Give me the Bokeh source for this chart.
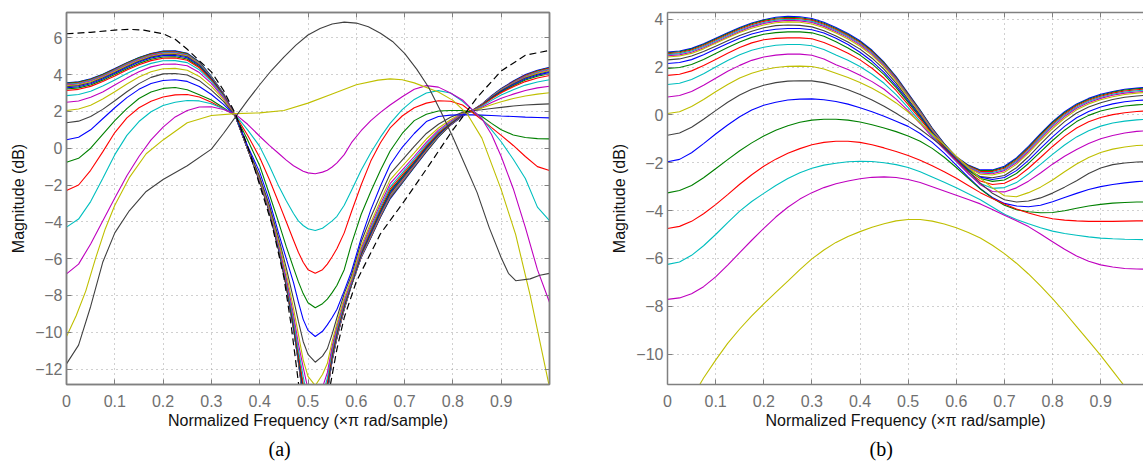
from bokeh.plotting import figure
from bokeh.models import Range1d, LinearAxis, FixedTicker, Title
from bokeh.layouts import row
from bokeh.embed import file_html
from bokeh.resources import INLINE

# ---------------- tick labels ----------------
X_TICKS = [0, 0.1, 0.2, 0.3, 0.4, 0.5, 0.6, 0.7, 0.8, 0.9]
X_TICK_LABELS = ["0", "0.1", "0.2", "0.3", "0.4", "0.5", "0.6", "0.7", "0.8", "0.9"]
A_Y_TICKS = [-12, -10, -8, -6, -4, -2, 0, 2, 4, 6]
A_Y_TICK_LABELS = ["\u221212", "\u221210", "\u22128", "\u22126", "\u22124", "\u22122", "0", "2", "4", "6"]
B_Y_TICKS = [-10, -8, -6, -4, -2, 0, 2, 4]
B_Y_TICK_LABELS = ["\u221210", "\u22128", "\u22126", "\u22124", "\u22122", "0", "2", "4"]

# MATLAB default colour order: b, g, r, c, m, y, k
COLOR_ORDER = ["#0000ff", "#008000", "#ff0000", "#00bfbf", "#bf00bf", "#bfbf00", "#404040"]

# ---------------- panel (a) data ----------------
a_x = [0, 0.025, 0.05, 0.075, 0.1, 0.125, 0.15, 0.175, 0.2, 0.225, 0.25, 0.275, 0.3, 0.325, 0.35,
       0.375, 0.4, 0.42, 0.44, 0.455, 0.47, 0.48, 0.49, 0.5, 0.515,
       0.53, 0.54, 0.55, 0.56, 0.575, 0.59, 0.61, 0.63, 0.65, 0.67, 0.695, 0.72, 0.745, 0.77, 0.795, 0.82, 0.84,
       0.86, 0.88, 0.9, 0.925, 0.95, 0.975, 1.0]
a_c00 = [3.55, 3.61, 3.77, 4.02, 4.33, 4.65, 4.93, 5.15, 5.28, 5.29, 5.16, 4.69, 3.9, 2.97, 1.72,
         -0.05, -1.8, -3.45, -5.6, -7.5, -9.8, -11.6, -13.6, -17, -30,
         -17, -13.25, -11.55, -10.3, -8.75, -7.45, -5.95, -4.88, -3.75, -2.75, -1.9, -1.05, -0.2, 0.6, 1.25, 1.75, 2.05,
         2.4, 2.85, 3.25, 3.65, 4.0, 4.24, 4.4]
a_c01 = [3.53, 3.59, 3.75, 4.0, 4.31, 4.63, 4.91, 5.13, 5.26, 5.27, 5.14, 4.67, 3.89, 2.97, 1.72,
         -0.05, -1.8, -3.45, -5.6, -7.5, -9.8, -11.6, -13.58, -16.8, -28,
         -16.5, -13.22, -11.52, -10.28, -8.73, -7.45, -5.93, -4.85, -3.72, -2.7, -1.87, -1.02, -0.18, 0.62, 1.26, 1.76, 2.05,
         2.38, 2.83, 3.22, 3.62, 3.97, 4.21, 4.37]
a_c02 = [3.5, 3.56, 3.72, 3.97, 4.28, 4.6, 4.88, 5.1, 5.23, 5.24, 5.11, 4.64, 3.87, 2.95, 1.72,
         -0.05, -1.8, -3.45, -5.6, -7.49, -9.79, -11.58, -13.55, -16.5, -26,
         -16, -13.2, -11.5, -10.26, -8.71, -7.44, -5.91, -4.82, -3.69, -2.66, -1.83, -0.98, -0.15, 0.64, 1.27, 1.77, 2.05,
         2.38, 2.82, 3.21, 3.6, 3.95, 4.18, 4.34]
a_c03 = [3.47, 3.53, 3.69, 3.94, 4.25, 4.57, 4.85, 5.07, 5.2, 5.21, 5.08, 4.62, 3.86, 2.94, 1.72,
         -0.05, -1.8, -3.45, -5.6, -7.48, -9.78, -11.55, -13.5, -16.2, -24,
         -15.5, -13.15, -11.46, -10.23, -8.69, -7.44, -5.89, -4.79, -3.65, -2.62, -1.8, -0.95, -0.12, 0.66, 1.28, 1.78, 2.04,
         2.37, 2.8, 3.19, 3.57, 3.91, 4.14, 4.3]
a_c04 = [3.43, 3.49, 3.65, 3.9, 4.21, 4.53, 4.81, 5.03, 5.16, 5.17, 5.04, 4.59, 3.84, 2.93, 1.72,
         -0.04, -1.8, -3.44, -5.59, -7.47, -9.76, -11.52, -13.45, -15.9, -22,
         -15, -13.1, -11.42, -10.2, -8.67, -7.43, -5.86, -4.75, -3.61, -2.57, -1.76, -0.92, -0.09, 0.68, 1.29, 1.79, 2.04,
         2.36, 2.79, 3.17, 3.55, 3.88, 4.1, 4.26]
a_c05 = [3.39, 3.45, 3.61, 3.86, 4.17, 4.49, 4.77, 4.99, 5.12, 5.13, 5.01, 4.56, 3.82, 2.92, 1.72,
         -0.04, -1.8, -3.44, -5.58, -7.46, -9.74, -11.48, -13.4, -15.6, -20,
         -14.6, -13.05, -11.38, -10.15, -8.64, -7.42, -5.83, -4.71, -3.56, -2.52, -1.71, -0.88, -0.06, 0.7, 1.3, 1.8, 2.04,
         2.36, 2.77, 3.15, 3.52, 3.85, 4.07, 4.22]
a_c06 = [3.34, 3.4, 3.56, 3.82, 4.12, 4.44, 4.73, 4.95, 5.08, 5.09, 4.97, 4.53, 3.8, 2.91, 1.72,
         -0.04, -1.79, -3.43, -5.57, -7.44, -9.72, -11.43, -13.3, -15.3, -19,
         -14.3, -13.0, -11.33, -10.1, -8.6, -7.41, -5.79, -4.66, -3.51, -2.47, -1.66, -0.84, -0.02, 0.72, 1.31, 1.81, 2.04,
         2.35, 2.76, 3.12, 3.49, 3.81, 4.02, 4.17]
a_c07 = [3.28, 3.34, 3.5, 3.76, 4.07, 4.39, 4.68, 4.9, 5.03, 5.04, 4.92, 4.49, 3.78, 2.9, 1.72,
         -0.03, -1.78, -3.42, -5.55, -7.41, -9.7, -11.38, -13.2, -15.0, -18,
         -14.0, -12.95, -11.28, -10.05, -8.56, -7.39, -5.75, -4.6, -3.45, -2.4, -1.6, -0.8, 0.02, 0.75, 1.33, 1.82, 2.04,
         2.34, 2.74, 3.1, 3.45, 3.76, 3.97, 4.12]
a_c08 = [3.22, 3.28, 3.44, 3.7, 4.0, 4.32, 4.61, 4.83, 4.96, 4.97, 4.85, 4.43, 3.74, 2.87, 1.72,
         -0.02, -1.76, -3.4, -5.5, -7.36, -9.6, -11.3, -13.0, -14.7, -17,
         -13.8, -12.85, -11.2, -9.98, -8.52, -7.36, -5.7, -4.52, -3.38, -2.32, -1.54, -0.75, 0.07, 0.79, 1.35, 1.84, 2.04,
         2.33, 2.72, 3.06, 3.4, 3.71, 3.91, 4.05]
a_c09 = [3.14, 3.2, 3.36, 3.62, 3.93, 4.25, 4.54, 4.76, 4.89, 4.9, 4.78, 4.37, 3.7, 2.85, 1.73,
         -0.01, -1.74, -3.37, -5.45, -7.3, -9.45, -11.15, -12.8, -14.3, -16,
         -13.6, -12.7, -11.1, -9.9, -8.46, -7.32, -5.64, -4.43, -3.29, -2.22, -1.45, -0.68, 0.13, 0.84, 1.38, 1.86, 2.04,
         2.32, 2.68, 3.01, 3.34, 3.62, 3.82, 3.95]
a_c10 = [2.86, 2.92, 3.1, 3.38, 3.71, 4.06, 4.37, 4.61, 4.75, 4.76, 4.65, 4.26, 3.63, 2.8, 1.73,
         0.0, -1.72, -3.33, -5.4, -7.2, -9.3, -10.95, -12.4, -13.8, -15,
         -13.4, -12.5, -10.95, -9.8, -8.38, -7.27, -5.56, -4.33, -3.18, -2.1, -1.34, -0.58, 0.21, 0.9, 1.42, 1.88, 2.03,
         2.28, 2.6, 2.89, 3.18, 3.43, 3.6, 3.72]
a_c11 = [2.5, 2.57, 2.77, 3.06, 3.43, 3.81, 4.15, 4.42, 4.56, 4.58, 4.48, 4.11, 3.52, 2.74, 1.73,
         0.01, -1.68, -3.28, -5.3, -7.05, -9.05, -10.6, -11.9, -13.1, -14,
         -13.0, -12.2, -10.75, -9.65, -8.27, -7.2, -5.46, -4.2, -3.03, -1.93, -1.19, -0.45, 0.32, 0.98, 1.47, 1.9, 2.03,
         2.23, 2.49, 2.71, 2.94, 3.14, 3.28, 3.37]
a_c12 = [2.05, 2.13, 2.34, 2.67, 3.07, 3.49, 3.87, 4.16, 4.32, 4.34, 4.24, 3.9, 3.36, 2.65, 1.74,
         0.03, -1.62, -3.2, -5.15, -6.8, -8.7, -10.1, -11.5, -12.4, -12.9,
         -12.3, -11.7, -10.5, -9.5, -8.12, -7.1, -5.33, -4.05, -2.85, -1.72, -0.98, -0.25, 0.5, 1.1, 1.55, 1.93, 2.03,
         2.18, 2.36, 2.53, 2.7, 2.84, 2.94, 3.01]
a_c13 = [1.38, 1.47, 1.72, 2.11, 2.58, 3.07, 3.51, 3.85, 4.04, 4.06, 3.98, 3.67, 3.16, 2.55, 1.74,
         0.06, -1.55, -3.1, -4.95, -6.5, -8.2, -9.4, -10.5, -11.2, -11.63,
         -11.3, -10.9, -10.1, -9.2, -7.9, -6.9, -5.1, -3.75, -2.55, -1.4, -0.65, 0.1, 0.8, 1.3, 1.68, 1.96, 2.04,
         2.09, 2.16, 2.22, 2.29, 2.35, 2.38, 2.41]
a_c14 = [0.46, 0.6, 1.0, 1.6, 2.2, 2.75, 3.2, 3.52, 3.68, 3.72, 3.63, 3.35, 2.92, 2.38, 1.75,
         0.12, -1.3, -2.85, -4.7, -6.0, -7.3, -8.35, -9.3, -9.9, -10.23,
         -9.95, -9.6, -9.2, -8.75, -7.75, -6.7, -4.9, -3.35, -2.05, -0.9, 0.05, 0.8, 1.45, 1.72, 1.8, 1.82, 1.81,
         1.8, 1.78, 1.75, 1.72, 1.69, 1.67, 1.65]
a_c15 = [-0.76, -0.55, 0.0, 0.75, 1.5, 2.15, 2.7, 3.05, 3.25, 3.3, 3.18, 2.9, 2.62, 2.2, 1.76,
         0.45, -0.95, -2.5, -4.1, -5.35, -6.5, -7.25, -7.9, -8.4, -8.67,
         -8.45, -8.2, -7.85, -7.45, -6.6, -5.2, -3.6, -2.35, -1.2, -0.15, 0.8, 1.5, 1.85, 2.02, 2.05, 2.05, 1.97,
         1.72, 1.35, 1.0, 0.72, 0.58, 0.52, 0.51]
a_c16 = [-2.3, -2.0, -1.2, -0.2, 0.85, 1.65, 2.2, 2.55, 2.78, 2.9, 2.92, 2.78, 2.5, 2.15, 1.78,
         0.7, -0.5, -1.7, -3.0, -4.0, -5.0, -5.65, -6.2, -6.6, -6.79,
         -6.6, -6.3, -5.9, -5.45, -4.6, -3.45, -2.0, -0.7, 0.3, 1.1, 1.75, 2.2, 2.45, 2.58, 2.55, 2.35, 1.95,
         1.55, 1.12, 0.7, 0.15, -0.45, -1.0, -1.21]
a_c17 = [-4.29, -3.85, -2.9, -1.65, -0.35, 0.7, 1.45, 1.98, 2.32, 2.5, 2.59, 2.57, 2.42, 2.15, 1.8,
         1.0, 0.1, -0.95, -2.1, -2.85, -3.55, -3.95, -4.2, -4.38, -4.47,
         -4.35, -4.15, -3.95, -3.7, -3.1, -2.3, -1.2, -0.25, 0.6, 1.35, 2.1, 2.65, 3.0, 3.13, 3.0, 2.55, 2.08,
         1.6, 1.0, 0.35, -0.6, -1.65, -3.2, -3.93]
a_c18 = [-6.83, -6.3, -5.2, -3.95, -2.7, -1.5, -0.45, 0.45, 1.15, 1.7, 2.05, 2.24, 2.25, 2.1, 1.84,
         1.3, 0.65, 0.15, -0.3, -0.65, -0.95, -1.1, -1.25, -1.34, -1.39,
         -1.3, -1.2, -1.02, -0.8, -0.35, 0.3, 0.95, 1.5, 1.95, 2.35, 2.8, 3.2, 3.4, 3.32, 3.0, 2.62, 2.1,
         1.6, 0.75, -0.45, -2.2, -4.3, -6.6, -8.37]
a_c19_x = [0, 0.02, 0.04, 0.06, 0.08, 0.1, 0.13, 0.165, 0.2, 0.25, 0.3, 0.35, 0.4, 0.45,
           0.5, 0.55, 0.6, 0.645, 0.67, 0.695, 0.72, 0.77, 0.8, 0.83, 0.86, 0.9, 0.93, 0.96, 1.0]
a_c19 = [-10.23, -9.1, -7.75, -6.0, -4.4, -3.1, -1.6, -0.3, 0.45, 1.38, 1.78, 1.88, 1.92, 2.05,
         2.45, 2.95, 3.45, 3.7, 3.77, 3.72, 3.55, 3.05, 2.6, 1.85, 0.55, -2.25, -4.7, -8.0, -13.0]
a_c20_x = [0, 0.025, 0.05, 0.075, 0.1, 0.13, 0.165, 0.2, 0.25, 0.3, 0.325, 0.35, 0.375, 0.4, 0.425,
           0.45, 0.475, 0.5, 0.525, 0.55, 0.575, 0.6, 0.625, 0.65, 0.675, 0.7, 0.725, 0.75, 0.775,
           0.8, 0.825, 0.85, 0.875, 0.9, 0.915, 0.93, 0.96, 0.98, 1.0]
a_c20 = [-11.72, -10.7, -8.6, -6.2, -4.6, -3.4, -2.35, -1.7, -0.95, -0.05, 0.8, 1.7, 2.6, 3.45, 4.25,
         4.95, 5.6, 6.15, 6.5, 6.75, 6.85, 6.8, 6.6, 6.25, 5.8, 5.15, 4.3, 3.3, 2.0,
         0.6, -0.9, -2.4, -4.3, -5.95, -6.8, -7.2, -7.1, -6.9, -6.8]
a_ref_x = [0, 0.05, 0.1, 0.13, 0.16, 0.2, 0.225, 0.25, 0.275, 0.3, 0.325, 0.35, 0.375, 0.4,
           0.425, 0.45, 0.465, 0.48, 0.5, 0.515, 0.53, 0.546, 0.56, 0.575, 0.6, 0.65, 0.7,
           0.75, 0.8, 0.85, 0.9, 0.95, 1.0]
a_ref = [6.22, 6.3, 6.42, 6.46, 6.42, 6.22, 5.92, 5.38, 4.75, 4.15, 3.15, 1.85, 0.1, -2.0,
         -4.1, -7.0, -9.6, -12.7, -18, -22, -18, -12.9, -10.9, -9.2, -7.25, -4.65, -2.85,
         -0.95, 1.0, 2.75, 4.2, 5.05, 5.32]

# ---------------- panel (b) data ----------------
b_x = [0, 0.025, 0.05, 0.075, 0.1, 0.125, 0.15, 0.175, 0.2, 0.225, 0.25, 0.275, 0.3, 0.325,
       0.35, 0.375, 0.4, 0.425, 0.45, 0.475, 0.5, 0.525, 0.55, 0.575, 0.6, 0.625, 0.65, 0.675,
       0.7, 0.725, 0.75, 0.775, 0.8, 0.825, 0.85, 0.875, 0.9, 0.925, 0.95, 0.975, 1.0]
b_c00 = [2.63, 2.67, 2.78, 2.97, 3.2, 3.43, 3.65, 3.84, 3.98, 4.08, 4.12, 4.1, 4.03, 3.87, 3.65, 3.4, 3.1, 2.7, 2.2, 1.6, 0.9, 0.2, -0.55, -1.2, -1.75, -2.1, -2.3, -2.3, -2.15, -1.8, -1.32, -0.78, -0.28, 0.13, 0.46, 0.69, 0.86, 0.98, 1.07, 1.12, 1.16]
b_c01 = [2.6, 2.64, 2.75, 2.94, 3.17, 3.4, 3.62, 3.81, 3.95, 4.04, 4.08, 4.06, 3.99, 3.83, 3.61, 3.36, 3.06, 2.67, 2.17, 1.57, 0.87, 0.18, -0.57, -1.22, -1.77, -2.12, -2.33, -2.33, -2.19, -1.84, -1.36, -0.82, -0.32, 0.09, 0.42, 0.65, 0.82, 0.95, 1.04, 1.09, 1.13]
b_c02 = [2.56, 2.6, 2.71, 2.9, 3.13, 3.36, 3.58, 3.77, 3.91, 4.0, 4.04, 4.02, 3.95, 3.79, 3.57, 3.32, 3.02, 2.63, 2.13, 1.54, 0.84, 0.15, -0.59, -1.24, -1.78, -2.14, -2.36, -2.37, -2.23, -1.89, -1.41, -0.88, -0.38, 0.04, 0.38, 0.61, 0.78, 0.91, 1.0, 1.05, 1.09]
b_c03 = [2.52, 2.56, 2.67, 2.86, 3.09, 3.32, 3.54, 3.72, 3.86, 3.96, 4.0, 3.98, 3.91, 3.75, 3.53, 3.28, 2.98, 2.59, 2.1, 1.51, 0.81, 0.13, -0.61, -1.25, -1.8, -2.17, -2.4, -2.41, -2.28, -1.94, -1.47, -0.93, -0.43, -0.01, 0.33, 0.57, 0.74, 0.86, 0.96, 1.01, 1.05]
b_c04 = [2.47, 2.51, 2.62, 2.81, 3.04, 3.27, 3.49, 3.68, 3.82, 3.91, 3.95, 3.93, 3.86, 3.7, 3.48, 3.23, 2.93, 2.54, 2.06, 1.47, 0.78, 0.1, -0.64, -1.28, -1.82, -2.2, -2.43, -2.46, -2.33, -2.0, -1.53, -1.0, -0.49, -0.07, 0.28, 0.52, 0.69, 0.82, 0.91, 0.96, 1.0]
b_c05 = [2.42, 2.46, 2.57, 2.76, 2.99, 3.22, 3.44, 3.62, 3.76, 3.85, 3.89, 3.87, 3.8, 3.64, 3.42, 3.17, 2.87, 2.49, 2.01, 1.42, 0.74, 0.06, -0.67, -1.3, -1.85, -2.23, -2.48, -2.51, -2.4, -2.07, -1.6, -1.07, -0.57, -0.14, 0.21, 0.46, 0.63, 0.76, 0.85, 0.91, 0.95]
b_c06 = [2.3, 2.34, 2.46, 2.65, 2.87, 3.1, 3.32, 3.5, 3.64, 3.73, 3.76, 3.74, 3.68, 3.52, 3.3, 3.05, 2.75, 2.37, 1.9, 1.33, 0.65, -0.01, -0.73, -1.36, -1.9, -2.3, -2.58, -2.63, -2.53, -2.21, -1.75, -1.22, -0.72, -0.28, 0.08, 0.33, 0.51, 0.64, 0.74, 0.79, 0.83]
b_c07 = [2.15, 2.19, 2.31, 2.51, 2.75, 2.98, 3.2, 3.38, 3.51, 3.58, 3.61, 3.61, 3.56, 3.42, 3.2, 2.94, 2.62, 2.24, 1.78, 1.22, 0.58, -0.06, -0.72, -1.32, -1.85, -2.27, -2.6, -2.7, -2.62, -2.33, -1.9, -1.4, -0.92, -0.48, -0.12, 0.14, 0.33, 0.46, 0.55, 0.6, 0.63]
b_c08 = [1.94, 1.98, 2.11, 2.32, 2.57, 2.82, 3.05, 3.24, 3.37, 3.44, 3.47, 3.47, 3.43, 3.29, 3.06, 2.8, 2.5, 2.13, 1.68, 1.14, 0.52, -0.11, -0.76, -1.36, -1.88, -2.32, -2.66, -2.78, -2.72, -2.45, -2.03, -1.55, -1.07, -0.64, -0.28, -0.02, 0.16, 0.28, 0.37, 0.42, 0.45]
b_c09 = [1.65, 1.7, 1.84, 2.06, 2.32, 2.58, 2.82, 3.01, 3.14, 3.2, 3.22, 3.22, 3.18, 3.03, 2.82, 2.58, 2.3, 1.95, 1.53, 1.02, 0.43, -0.18, -0.8, -1.38, -1.9, -2.38, -2.76, -2.91, -2.86, -2.62, -2.23, -1.78, -1.32, -0.9, -0.55, -0.29, -0.11, 0.01, 0.09, 0.14, 0.17]
b_c10 = [1.27, 1.32, 1.48, 1.72, 2.0, 2.27, 2.51, 2.7, 2.83, 2.91, 2.94, 2.94, 2.89, 2.73, 2.5, 2.28, 2.02, 1.7, 1.32, 0.85, 0.3, -0.28, -0.88, -1.43, -1.95, -2.45, -2.87, -3.07, -3.04, -2.83, -2.47, -2.07, -1.65, -1.26, -0.92, -0.66, -0.47, -0.34, -0.26, -0.21, -0.18]
b_c11 = [0.75, 0.81, 0.98, 1.24, 1.53, 1.82, 2.07, 2.28, 2.42, 2.5, 2.54, 2.54, 2.49, 2.34, 2.1, 1.9, 1.66, 1.39, 1.07, 0.66, 0.18, -0.36, -0.93, -1.44, -1.93, -2.45, -2.92, -3.2, -3.22, -3.05, -2.77, -2.43, -2.06, -1.73, -1.45, -1.2, -1.0, -0.86, -0.76, -0.69, -0.66]
b_c12 = [0.06, 0.13, 0.35, 0.64, 0.97, 1.27, 1.54, 1.74, 1.89, 1.98, 2.03, 2.04, 2.02, 1.92, 1.74, 1.56, 1.35, 1.11, 0.83, 0.5, 0.12, -0.33, -0.8, -1.25, -1.72, -2.2, -2.65, -3.05, -3.38, -3.42, -3.25, -3.02, -2.72, -2.38, -2.05, -1.78, -1.57, -1.43, -1.34, -1.28, -1.26]
b_c13 = [-0.85, -0.76, -0.52, -0.18, 0.18, 0.53, 0.83, 1.07, 1.24, 1.35, 1.41, 1.43, 1.42, 1.35, 1.22, 1.05, 0.85, 0.62, 0.36, 0.07, -0.25, -0.6, -0.98, -1.38, -1.85, -2.35, -2.85, -3.28, -3.55, -3.64, -3.6, -3.47, -3.27, -3.02, -2.75, -2.45, -2.22, -2.08, -2.01, -1.97, -1.96]
b_c14 = [-1.96, -1.86, -1.58, -1.2, -0.8, -0.42, -0.08, 0.2, 0.4, 0.53, 0.62, 0.66, 0.67, 0.63, 0.56, 0.45, 0.3, 0.13, -0.06, -0.27, -0.48, -0.78, -1.15, -1.6, -2.1, -2.6, -3.08, -3.45, -3.7, -3.81, -3.84, -3.78, -3.63, -3.45, -3.28, -3.12, -3.0, -2.91, -2.84, -2.79, -2.76]
b_c15 = [-3.26, -3.16, -2.95, -2.63, -2.25, -1.87, -1.5, -1.17, -0.88, -0.64, -0.45, -0.31, -0.22, -0.18, -0.18, -0.22, -0.3, -0.41, -0.55, -0.7, -0.88, -1.1, -1.4, -1.77, -2.2, -2.65, -3.1, -3.48, -3.78, -3.96, -4.05, -4.09, -4.08, -4.01, -3.9, -3.81, -3.74, -3.69, -3.66, -3.64, -3.64]
b_c16 = [-4.75, -4.66, -4.45, -4.13, -3.75, -3.33, -2.9, -2.5, -2.15, -1.85, -1.6, -1.41, -1.25, -1.15, -1.1, -1.1, -1.15, -1.25, -1.38, -1.53, -1.7, -1.9, -2.13, -2.38, -2.65, -2.95, -3.25, -3.5, -3.72, -3.93, -4.1, -4.24, -4.34, -4.4, -4.43, -4.45, -4.45, -4.45, -4.44, -4.43, -4.43]
b_c17 = [-6.25, -6.15, -5.87, -5.47, -5.0, -4.5, -4.02, -3.62, -3.28, -2.95, -2.66, -2.42, -2.23, -2.1, -2.02, -1.96, -1.94, -1.95, -2.0, -2.08, -2.2, -2.38, -2.6, -2.82, -3.05, -3.3, -3.55, -3.85, -4.15, -4.37, -4.55, -4.72, -4.86, -4.96, -5.03, -5.1, -5.15, -5.18, -5.2, -5.21, -5.22]
b_c18 = [-7.71, -7.65, -7.48, -7.18, -6.77, -6.28, -5.76, -5.24, -4.74, -4.27, -3.86, -3.52, -3.25, -3.04, -2.88, -2.76, -2.67, -2.61, -2.59, -2.62, -2.7, -2.83, -3.0, -3.18, -3.36, -3.54, -3.72, -3.95, -4.2, -4.43, -4.67, -4.98, -5.3, -5.62, -5.9, -6.12, -6.27, -6.36, -6.42, -6.44, -6.45]
b_c19 = [-13.0, -12.6, -11.85, -11.0, -10.25, -9.55, -8.95, -8.4, -7.9, -7.42, -6.95, -6.47, -6.02, -5.65, -5.33, -5.08, -4.88, -4.7, -4.55, -4.43, -4.37, -4.37, -4.44, -4.56, -4.72, -4.92, -5.15, -5.45, -5.8, -6.2, -6.65, -7.15, -7.68, -8.25, -8.85, -9.45, -10.05, -10.7, -11.35, -12.0, -12.6]

A_FAMILY = [a_c00, a_c01, a_c02, a_c03, a_c04, a_c05, a_c06, a_c07, a_c08, a_c09,
            a_c10, a_c11, a_c12, a_c13, a_c14, a_c15, a_c16, a_c17, a_c18]
B_FAMILY = [b_c00, b_c01, b_c02, b_c03, b_c04, b_c05, b_c06, b_c07, b_c08, b_c09,
            b_c10, b_c11, b_c12, b_c13, b_c14, b_c15, b_c16, b_c17, b_c18, b_c19]

AX_COL = "#808080"
TICK_LBL_COL = "#707070"
GRID_COL = "#a0a0a0"
FONT = "Liberation Sans"
XLABEL = "Normalized Frequency (\u00d7\u03c0 rad/sample)"
YLABEL = "Magnitude (dB)"
LW = 1.1


def tick_only_axis(ticker):
    return LinearAxis(ticker=ticker, major_tick_in=5, major_tick_out=0,
                      major_label_text_font_size="1px", major_label_text_color=None,
                      major_label_standoff=0, axis_line_color=AX_COL, axis_line_width=1.5,
                      major_tick_line_color=AX_COL, minor_tick_line_color=None)


def make_panel(width, mbl, mbr, x_end, y0, y1, y_ticks, y_tick_labels, box_right, caption):
    p = figure(width=width, height=466, x_range=Range1d(0, x_end), y_range=Range1d(y0, y1),
               output_backend="svg", toolbar_location=None,
               min_border_left=mbl, min_border_right=mbr, min_border_top=12, min_border_bottom=82,
               x_axis_label=XLABEL, y_axis_label=YLABEL)
    p.background_fill_color = "white"
    p.border_fill_color = "white"
    p.outline_line_color = AX_COL if box_right else None
    p.outline_line_width = 1.5
    xt = FixedTicker(ticks=X_TICKS)
    yt = FixedTicker(ticks=y_ticks)
    p.xaxis.ticker = xt
    p.yaxis.ticker = yt
    p.xgrid.ticker = xt
    p.ygrid.ticker = yt
    for g in (p.xgrid[0], p.ygrid[0]):
        g.grid_line_color = GRID_COL
        g.grid_line_dash = "1 4"
        g.grid_line_width = 1
    for ax in (p.xaxis[0], p.yaxis[0]):
        ax.axis_line_color = AX_COL
        ax.axis_line_width = 1.5
        ax.major_tick_in = 5
        ax.major_tick_out = 0
        ax.major_tick_line_color = AX_COL
        ax.minor_tick_line_color = None
        ax.major_label_text_font = FONT
        ax.major_label_text_font_size = "16px"
        ax.major_label_text_color = TICK_LBL_COL
        ax.axis_label_text_font = FONT
        ax.axis_label_text_font_size = "16px"
        ax.axis_label_text_font_style = "normal"
        ax.axis_label_text_color = "#111111"
    p.xaxis[0].major_label_standoff = 10
    p.xaxis[0].axis_label_standoff = 2
    p.yaxis[0].major_label_standoff = 4
    p.yaxis[0].axis_label_standoff = 5
    p.xaxis[0].major_label_overrides = dict(zip(X_TICKS, X_TICK_LABELS))
    p.yaxis[0].major_label_overrides = dict(zip(y_ticks, y_tick_labels))

    p.add_layout(tick_only_axis(xt), "above")
    if box_right:
        p.add_layout(tick_only_axis(yt), "right")
    p.add_layout(Title(text=caption, align="left", offset=202, standoff=9,
                       vertical_align="bottom", text_baseline="top",
                       text_font="Liberation Serif", text_font_size="20px",
                       text_font_style="normal", text_color="#000000"), "below")
    return p


# ---------------- panel (a) ----------------
pa = make_panel(608, 66, 59, 1.0, -12.84, 7.375, A_Y_TICKS, A_Y_TICK_LABELS, True, "(a)")
for i, ys in enumerate(A_FAMILY):
    pa.line(a_x, ys, line_color=COLOR_ORDER[i % 7], line_width=LW)
pa.line(a_c19_x, a_c19, line_color=COLOR_ORDER[19 % 7], line_width=LW)
pa.line(a_c20_x, a_c20, line_color=COLOR_ORDER[20 % 7], line_width=LW)
pa.line(a_ref_x, a_ref, line_color="#000000", line_width=1.2, line_dash="7 4")

# ---------------- panel (b) ----------------
pb = make_panel(535, 57, 0, 0.989, -11.27, 4.28, B_Y_TICKS, B_Y_TICK_LABELS, False, "(b)")
for i, ys in enumerate(B_FAMILY):
    pb.line(b_x, ys, line_color=COLOR_ORDER[i % 7], line_width=LW)

layout = row(pa, pb)
open("out.html", "w").write(file_html(layout, INLINE))
